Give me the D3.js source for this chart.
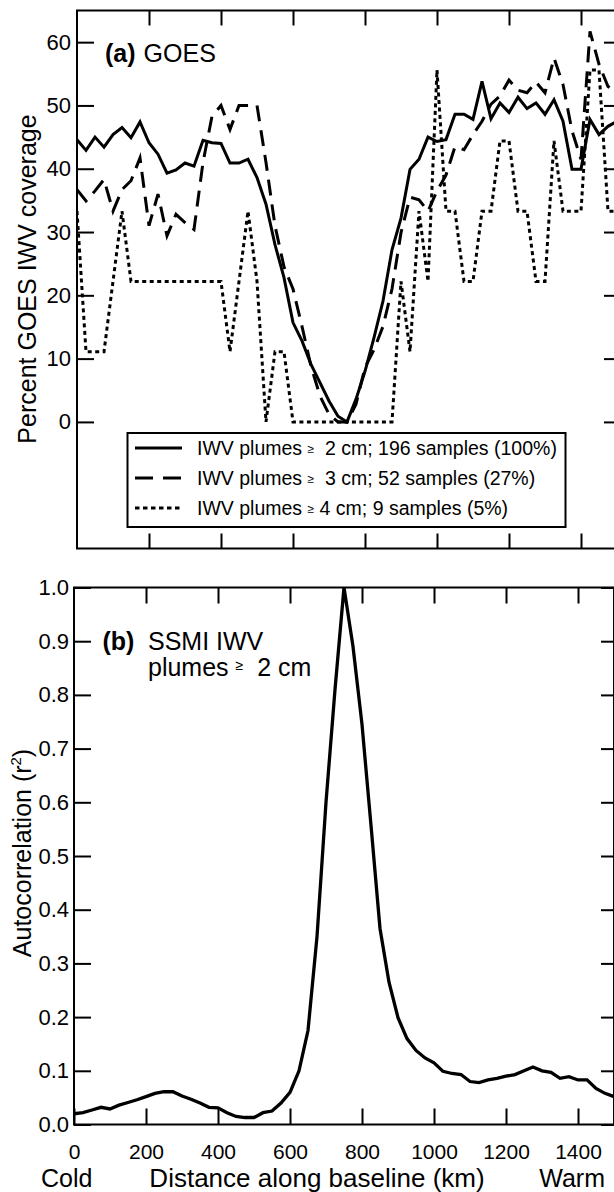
<!DOCTYPE html>
<html>
<head>
<meta charset="utf-8">
<script src="https://cdn.jsdelivr.net/npm/d3@7"></script>
<style>
  html, body { margin: 0; padding: 0; background: #fff; }
  svg { display: block; font-family: "Liberation Sans", Arial, Helvetica, sans-serif; }
  .tick line { stroke: #000; stroke-width: 2; }
  .tick text { fill: #000; font-size: 22px; }
  .xticks .tick text { font-size: 21px; }
</style>
</head>
<body>
<svg id="fig" width="614" height="1192"></svg>
<script>
// Sample positions along the cold-to-warm baseline (km)
const distanceKm = [
  0, 25, 50, 75, 100, 125, 150, 175, 200, 225,
  250, 275, 300, 325, 350, 375, 400, 425, 450, 475,
  500, 525, 550, 575, 600, 625, 650, 675, 700, 725,
  750, 775, 800, 825, 850, 875, 900, 925, 950, 975,
  1000, 1025, 1050, 1075, 1100, 1125, 1150, 1175, 1200, 1225,
  1250, 1275, 1300, 1325, 1350, 1375, 1400, 1425, 1450, 1475,
  1500
];

// (a) Percent GOES IWV coverage, plumes >= 2 cm
const coverage2cm = [
  44.6, 42.9, 45.0, 43.4, 45.4, 46.5, 44.9, 47.4, 44.1, 42.3,
  39.3, 39.8, 40.9, 40.4, 44.5, 44.1, 44.0, 40.9, 40.9, 41.5,
  38.6, 34.4, 28.0, 22.8, 15.7, 12.8, 9.1, 6.2, 3.3, 0.9,
  0.0, 3.6, 8.0, 13.3, 19.1, 27.2, 32.2, 39.9, 41.5, 45.0,
  44.3, 44.6, 48.6, 48.6, 47.8, 53.8, 47.9, 50.4, 48.9, 51.3,
  49.5, 50.4, 48.6, 50.9, 47.5, 39.9, 39.9, 47.8, 45.4, 46.7,
  47.5
];

// (a) plumes >= 3 cm
const coverage3cm = [
  36.7, 34.9, 36.5, 38.3, 33.3, 36.7, 38.1, 41.7, 31.0, 36.0,
  29.4, 32.8, 31.5, 30.4, 41.0, 48.3, 50.0, 46.2, 50.0, 50.0,
  50.0, 41.0, 31.0, 24.5, 21.0, 15.1, 8.8, 4.1, 1.2, 0.0,
  0.0, 2.8, 8.6, 11.4, 15.1, 21.0, 29.9, 35.5, 35.1, 33.3,
  36.5, 39.0, 43.5, 43.0, 45.4, 47.5, 50.2, 51.5, 54.0, 52.4,
  52.0, 53.7, 52.0, 57.5, 53.3, 46.0, 41.5, 61.7, 56.5, 53.0,
  52.0
];

// (a) plumes >= 4 cm (9 samples, so steps of 1/9)
const coverage4cm = [
  33.3, 11.1, 11.1, 11.1, 22.2, 33.3, 22.2, 22.2, 22.2, 22.2,
  22.2, 22.2, 22.2, 22.2, 22.2, 22.2, 22.2, 11.1, 22.2, 33.3,
  22.2, 0.0, 11.1, 11.1, 0.0, 0.0, 0.0, 0.0, 0.0, 0.0,
  0.0, 0.0, 0.0, 0.0, 0.0, 0.0, 22.2, 11.1, 33.3, 22.2,
  55.6, 33.3, 33.3, 22.2, 22.2, 33.3, 33.3, 44.4, 44.4, 33.3,
  33.3, 22.2, 22.2, 44.4, 33.3, 33.3, 33.3, 55.6, 55.6, 33.3,
  33.3
];

// (b) SSMI IWV autocorrelation (r^2), plumes >= 2 cm
const autocorrelation = [
  0.020, 0.022, 0.027, 0.032, 0.029, 0.036, 0.041, 0.046, 0.052, 0.058,
  0.061, 0.061, 0.053, 0.047, 0.040, 0.032, 0.031, 0.022, 0.015, 0.013,
  0.013, 0.022, 0.025, 0.040, 0.060, 0.100, 0.175, 0.350, 0.600, 0.810,
  1.000, 0.890, 0.745, 0.557, 0.365, 0.265, 0.199, 0.160, 0.138, 0.124,
  0.115, 0.099, 0.095, 0.093, 0.080, 0.078, 0.083, 0.086, 0.090, 0.093,
  0.100, 0.107, 0.100, 0.097, 0.086, 0.089, 0.083, 0.083, 0.067, 0.058,
  0.052
];

const coverageTicks = [0, 10, 20, 30, 40, 50, 60];
const autoTicks = [0, 0.1, 0.2, 0.3, 0.4, 0.5, 0.6, 0.7, 0.8, 0.9, 1.0];
const distanceTicks = [0, 200, 400, 600, 800, 1000, 1200, 1400];

const legendLabels = [
  "IWV plumes \u2265  2 cm; 196 samples (100%)",
  "IWV plumes \u2265  3 cm; 52 samples (27%)",
  "IWV plumes \u2265 4 cm; 9 samples (5%)"
];
const seriesStyles = [
  { values: coverage2cm, dash: null, legendDash: null },
  { values: coverage3cm, dash: "16,9", legendDash: "18,10" },
  { values: coverage4cm, dash: "4,3.5", legendDash: "4.5,3.5" }
];

const svg = d3.select("#fig");

// ---------- scales ----------
const xA = d3.scaleLinear().domain([0, 1500]).range([77, 617]);
const yA = d3.scaleLinear().domain([-20, 65]).range([548.5, 10.5]);
const xB = d3.scaleLinear().domain([0, 1500]).range([74, 614]);
const yB = d3.scaleLinear().domain([0, 1]).range([1124.5, 587.5]);

const innerTicks = distanceTicks.filter(d => d > 0);

function styleAxis(g) {
  g.select(".domain").remove();
  g.attr("font-family", null).attr("font-size", null);
}

// ---------- panel (a) ----------
const pa = svg.append("g");
pa.append("defs").append("clipPath").attr("id", "clipA")
  .append("rect").attr("x", xA(0)).attr("y", yA(65))
  .attr("width", xA(1500) - xA(0)).attr("height", yA(-20) - yA(65));

pa.append("g").attr("transform", `translate(${xA(0)},0)`)
  .call(d3.axisLeft(yA).tickValues(coverageTicks).tickSize(-17).tickPadding(6).tickFormat(d3.format("d")))
  .call(styleAxis);
pa.append("g").attr("transform", `translate(${xA(1500)},0)`)
  .call(d3.axisRight(yA).tickValues(coverageTicks).tickSize(-13).tickFormat(""))
  .call(styleAxis);
pa.append("g").attr("transform", `translate(0,${yA(-20)})`)
  .call(d3.axisBottom(xA).tickValues(innerTicks).tickSize(-15).tickFormat(""))
  .call(styleAxis);
pa.append("g").attr("transform", `translate(0,${yA(65)})`)
  .call(d3.axisTop(xA).tickValues(innerTicks).tickSize(-15).tickFormat(""))
  .call(styleAxis);

pa.append("rect")
  .attr("x", xA(0)).attr("y", yA(65))
  .attr("width", xA(1500) - xA(0)).attr("height", yA(-20) - yA(65))
  .attr("fill", "none").attr("stroke", "#000").attr("stroke-width", 2);

const lineA = d3.line().x((d, i) => xA(distanceKm[i])).y(d => yA(d));
pa.append("g").attr("clip-path", "url(#clipA)")
  .selectAll("path").data(seriesStyles).join("path")
  .attr("d", d => lineA(d.values))
  .attr("fill", "none").attr("stroke", "#000").attr("stroke-width", 3)
  .attr("stroke-dasharray", d => d.dash);

pa.append("text").attr("x", 105).attr("y", 62).attr("font-size", 25)
  .call(t => {
    t.append("tspan").attr("font-weight", "bold").text("(a)");
    t.append("tspan").attr("dx", 8).text("GOES");
  });

pa.append("text")
  .attr("transform", "translate(36,279) rotate(-90)")
  .attr("text-anchor", "middle").attr("font-size", 25)
  .text("Percent GOES IWV coverage");

// legend
const legend = pa.append("g");
legend.append("rect").attr("x", 127.5).attr("y", 433).attr("width", 438).attr("height", 94)
  .attr("fill", "#fff").attr("stroke", "#000").attr("stroke-width", 2);
const rows = legend.selectAll("g.row").data(seriesStyles).join("g")
  .attr("class", "row")
  .attr("transform", (d, i) => `translate(0,${455 + i * 30})`);
rows.append("line").attr("x1", 135).attr("x2", 182).attr("y1", -7).attr("y2", -7)
  .attr("stroke", "#000").attr("stroke-width", 3)
  .attr("stroke-dasharray", d => d.legendDash);
rows.append("text").attr("x", 197).attr("y", 0).attr("font-size", 19.5)
  .style("white-space", "pre")
  .each(function (d, i) {
    const parts = legendLabels[i].split("\u2265");
    const t = d3.select(this);
    t.append("tspan").text(parts[0]);
    t.append("tspan").attr("font-size", 12).attr("dy", -2).text("\u2265");
    t.append("tspan").attr("dy", 2).text(parts[1]);
  });

// ---------- panel (b) ----------
const pb = svg.append("g");

pb.append("g").attr("transform", `translate(${xB(0)},0)`)
  .call(d3.axisLeft(yB).tickValues(autoTicks).tickSize(-17).tickPadding(5).tickFormat(d3.format(".1f")))
  .call(styleAxis);
pb.append("g").attr("transform", `translate(${xB(1500)},0)`)
  .call(d3.axisRight(yB).tickValues(autoTicks).tickSize(-13).tickFormat(""))
  .call(styleAxis);
pb.append("g").attr("class", "xticks").attr("transform", `translate(0,${yB(0)})`)
  .call(d3.axisBottom(xB).tickValues(distanceTicks).tickSize(-16).tickPadding(20).tickFormat(d3.format("d")))
  .call(styleAxis);
pb.append("g").attr("transform", `translate(0,${yB(1)})`)
  .call(d3.axisTop(xB).tickValues(innerTicks).tickSize(-16).tickFormat(""))
  .call(styleAxis);

pb.append("rect")
  .attr("x", xB(0)).attr("y", yB(1))
  .attr("width", xB(1500) - xB(0)).attr("height", yB(0) - yB(1))
  .attr("fill", "none").attr("stroke", "#000").attr("stroke-width", 2);

const lineB = d3.line().x((d, i) => xB(distanceKm[i])).y(d => yB(d));
pb.append("path").attr("d", lineB(autocorrelation))
  .attr("fill", "none").attr("stroke", "#000").attr("stroke-width", 3.3);

// panel label as one two-line text block
pb.append("text").attr("x", 102.5).attr("y", 650).attr("font-size", 25)
  .style("white-space", "pre")
  .call(t => {
    t.append("tspan").attr("font-weight", "bold").text("(b)");
    t.append("tspan").attr("x", 148).text("SSMI IWV");
    t.append("tspan").attr("x", 148).attr("dy", 25.5).text("plumes ");
    t.append("tspan").attr("font-size", 14).attr("dy", -6).text("\u2265");
    t.append("tspan").attr("dy", 6).text("  2 cm");
  });

pb.append("text")
  .attr("transform", "translate(31,853) rotate(-90)")
  .attr("text-anchor", "middle").attr("font-size", 25)
  .call(t => {
    t.append("tspan").text("Autocorrelation (r");
    t.append("tspan").attr("font-size", 15).attr("dy", -10).text("2");
    t.append("tspan").attr("dy", 10).text(")");
  });

// x-axis caption row
const caption = pb.append("g");
caption.append("text").attr("x", 41).attr("y", 1187).attr("font-size", 25).text("Cold");
caption.append("text").attr("x", 317).attr("y", 1187).attr("font-size", 26)
  .attr("text-anchor", "middle").text("Distance along baseline (km)");
caption.append("text").attr("x", 605).attr("y", 1187).attr("font-size", 25)
  .attr("text-anchor", "end").text("Warm");
</script>
</body>
</html>
